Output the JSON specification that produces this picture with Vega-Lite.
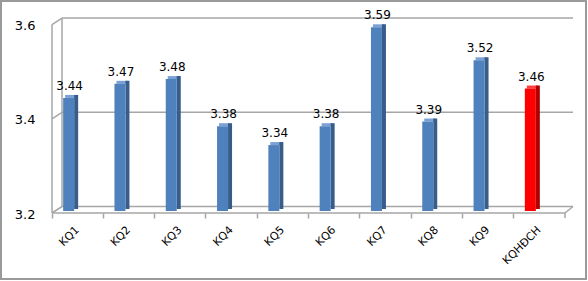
{
  "$schema": "https://vega.github.io/schema/vega-lite/v6.json",
  "autosize": {"type": "none"},
  "padding": {"left": 1, "top": 1, "right": 2, "bottom": 2},
  "width": 585,
  "height": 278,
  "background": "white",
  "config": {
    "view": {"stroke": "#9a9a9a", "strokeWidth": 2},
    "font": "DejaVu Sans"
  },
  "datasets": {
    "bars": [
      {"name": "KQ1", "value": 3.44},
      {"name": "KQ2", "value": 3.47},
      {"name": "KQ3", "value": 3.48},
      {"name": "KQ4", "value": 3.38},
      {"name": "KQ5", "value": 3.34},
      {"name": "KQ6", "value": 3.38},
      {"name": "KQ7", "value": 3.59},
      {"name": "KQ8", "value": 3.39},
      {"name": "KQ9", "value": 3.52},
      {"name": "KQHĐCH", "value": 3.46}
    ],
    "grid": [{"v": 3.2}, {"v": 3.4}, {"v": 3.6}],
    "span": [{"lo": 3.2, "hi": 3.6}]
  },
  "layer": [
    {
      "data": {"name": "grid"},
      "mark": {"type": "rule", "color": "#a6a6a6", "strokeWidth": 1.5, "xOffset": 10, "x2Offset": 8, "yOffset": -4.5, "y2Offset": -4.5},
      "encoding": {
        "x": {"datum": "KQ1", "bandPosition": 0, "type": "nominal",
          "scale": {"domain": ["KQ1", "KQ2", "KQ3", "KQ4", "KQ5", "KQ6", "KQ7", "KQ8", "KQ9", "KQHĐCH"], "paddingInner": 0, "paddingOuter": 0.7018, "align": 0.7083},
          "axis": {"title": null, "domain": false, "bandPosition": 0, "tickSize": 5, "tickColor": "#a6a6a6", "tickWidth": 1.5, "offset": -66, "labelAngle": -45, "labelAlign": "right", "labelBaseline": "middle", "labelPadding": 10, "labelFontSize": 11, "labelColor": "#000000", "labelFont": "DejaVu Sans"}},
        "x2": {"datum": "KQHĐCH", "bandPosition": 1},
        "y": {"field": "v", "type": "quantitative",
          "scale": {"domain": [3.05563, 3.64586], "nice": false, "zero": false},
          "axis": {"title": null, "values": [3.2, 3.4, 3.6], "format": ".1f", "domain": false, "grid": false, "ticks": false, "offset": -51, "labelPadding": 17, "labelOffset": 3, "labelFontSize": 13, "labelColor": "#000000", "labelFont": "DejaVu Sans"}}
      }
    },
    {
      "data": {"name": "grid"},
      "mark": {"type": "rule", "color": "#a6a6a6", "strokeWidth": 1.5, "xOffset": 0, "x2Offset": 10, "yOffset": 2, "y2Offset": -4.5},
      "encoding": {
        "x": {"datum": "KQ1", "bandPosition": 0, "type": "nominal"},
        "x2": {"datum": "KQ1", "bandPosition": 0},
        "y": {"field": "v", "type": "quantitative"},
        "y2": {"field": "v"}
      }
    },
    {
      "data": {"name": "span"},
      "mark": {"type": "rule", "color": "#a6a6a6", "strokeWidth": 1.5, "xOffset": 0, "x2Offset": 0, "yOffset": 2, "y2Offset": 2},
      "encoding": {
        "x": {"datum": "KQ1", "bandPosition": 0, "type": "nominal"},
        "y": {"field": "lo", "type": "quantitative"},
        "y2": {"field": "hi"}
      }
    },
    {
      "data": {"name": "span"},
      "mark": {"type": "rule", "color": "#a6a6a6", "strokeWidth": 1.5, "xOffset": 10, "x2Offset": 10, "yOffset": -4.5, "y2Offset": -4.5},
      "encoding": {
        "x": {"datum": "KQ1", "bandPosition": 0, "type": "nominal"},
        "y": {"field": "lo", "type": "quantitative"},
        "y2": {"field": "hi"}
      }
    },
    {
      "data": {"name": "span"},
      "mark": {"type": "rule", "color": "#a6a6a6", "strokeWidth": 1.5, "xOffset": 0, "x2Offset": 0, "yOffset": 2, "y2Offset": 2},
      "encoding": {
        "x": {"datum": "KQ1", "bandPosition": 0, "type": "nominal"},
        "x2": {"datum": "KQHĐCH", "bandPosition": 1},
        "y": {"field": "lo", "type": "quantitative"}
      }
    },
    {
      "data": {"name": "span"},
      "mark": {"type": "rule", "color": "#a6a6a6", "strokeWidth": 1.5, "xOffset": 0, "x2Offset": 8, "yOffset": 2, "y2Offset": -4.5},
      "encoding": {
        "x": {"datum": "KQHĐCH", "bandPosition": 1, "type": "nominal"},
        "x2": {"datum": "KQHĐCH", "bandPosition": 1},
        "y": {"field": "lo", "type": "quantitative"},
        "y2": {"field": "lo"}
      }
    },
    {
      "data": {"name": "span"},
      "mark": {"type": "rule", "color": "#a6a6a6", "strokeWidth": 1.5, "xOffset": 0, "x2Offset": 0, "yOffset": 2, "y2Offset": 7},
      "encoding": {
        "x": {"datum": "KQHĐCH", "bandPosition": 1, "type": "nominal"},
        "y": {"field": "lo", "type": "quantitative"},
        "y2": {"field": "lo"}
      }
    },
    {
      "data": {"name": "bars"},
      "mark": {"type": "bar", "width": 11, "xOffset": -7, "yOffset": -3, "y2Offset": 0},
      "encoding": {
        "x": {"field": "name", "type": "nominal"},
        "y": {"field": "value", "type": "quantitative"},
        "y2": {"field": "value"},
        "color": {"condition": {"test": "datum.name === 'KQHĐCH'", "value": "#ff4040"}, "value": "#7aa0d4"}
      }
    },
    {
      "data": {"name": "bars"},
      "mark": {"type": "bar", "width": 4, "xOffset": -1.5, "yOffset": -3, "y2Offset": -2},
      "encoding": {
        "x": {"field": "name", "type": "nominal"},
        "y": {"field": "value", "type": "quantitative"},
        "y2": {"datum": 3.2},
        "color": {"condition": {"test": "datum.name === 'KQHĐCH'", "value": "#b00000"}, "value": "#385d8a"}
      }
    },
    {
      "data": {"name": "bars"},
      "mark": {"type": "bar", "width": 11, "xOffset": -9, "yOffset": 0, "y2Offset": 0},
      "encoding": {
        "x": {"field": "name", "type": "nominal"},
        "y": {"field": "value", "type": "quantitative"},
        "y2": {"datum": 3.2},
        "color": {"condition": {"test": "datum.name === 'KQHĐCH'", "value": "#ff0000"}, "value": "#4f81bd"}
      }
    },
    {
      "data": {"name": "bars"},
      "mark": {"type": "text", "xOffset": -8, "dy": -8, "baseline": "alphabetic", "fontSize": 12, "font": "DejaVu Sans", "color": "#000000"},
      "encoding": {
        "x": {"field": "name", "type": "nominal"},
        "y": {"field": "value", "type": "quantitative"},
        "text": {"field": "value", "type": "quantitative", "format": ".2f"}
      }
    }
  ]
}
